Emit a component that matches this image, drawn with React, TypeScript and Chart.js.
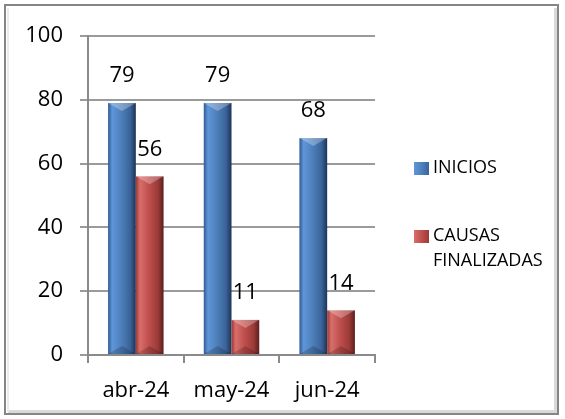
import React, { useEffect, useRef } from "react";
import { Chart, registerables } from "chart.js";

Chart.register(...registerables);

const categories = ["abr-24", "may-24", "jun-24"];
const inicios = [79, 79, 68];
const causasFinalizadas = [56, 11, 14];
const seriesNames = ["INICIOS", ["CAUSAS", "FINALIZADAS"]];
const yTicks = [0, 20, 40, 60, 80, 100];

const FONT = "'Open Sans', sans-serif";

const palettes = [
  ["#2f5a92", "#5f96d9", "#4f81bd", "#3a6399", "#1c3457"],
  ["#9a3835", "#d86f6b", "#c0504d", "#9b3a37", "#5c1e1c"],
];

const decorPlugin = {
  id: "decor",
  beforeDraw(chart: any) {
    const { ctx, width, height } = chart;
    ctx.save();
    ctx.fillStyle = "#ffffff";
    ctx.fillRect(0, 0, width, height);
    ctx.fillStyle = "#d9d9d9";
    ctx.fillRect(554, 8, 4, 406);
    ctx.fillRect(8, 410, 550, 4);
    ctx.fillStyle = "#ececec";
    ctx.fillRect(7, 8, 2, 404);
    ctx.strokeStyle = "#858585";
    ctx.lineWidth = 2;
    ctx.strokeRect(5, 5, 553, 409);
    ctx.restore();
  },
  afterDatasetsDraw(chart: any) {
    const { ctx } = chart;
    ctx.save();
    chart.data.datasets.forEach((ds: any, di: number) => {
      const meta = chart.getDatasetMeta(di);
      const pal = palettes[di];
      meta.data.forEach((bar: any, i: number) => {
        const w = bar.width;
        const l = bar.x - w / 2;
        const r = bar.x + w / 2;
        const top = bar.y;
        const base = bar.base;
        const g = ctx.createLinearGradient(l, 0, r, 0);
        g.addColorStop(0, pal[0]);
        g.addColorStop(0.15, pal[1]);
        g.addColorStop(0.45, pal[2]);
        g.addColorStop(0.8, pal[3]);
        g.addColorStop(1, pal[4]);
        ctx.fillStyle = g;
        ctx.fillRect(l, top, w, base - top);
        const cap = Math.min(8, (base - top) / 2);
        ctx.beginPath();
        ctx.moveTo(l, top);
        ctx.lineTo(r, top);
        ctx.lineTo(bar.x, top + cap);
        ctx.closePath();
        ctx.fillStyle = "rgba(255,255,255,0.28)";
        ctx.fill();
        ctx.beginPath();
        ctx.moveTo(l, base);
        ctx.lineTo(r, base);
        ctx.lineTo(bar.x, base - cap);
        ctx.closePath();
        ctx.fillStyle = "rgba(0,0,0,0.18)";
        ctx.fill();
        ctx.fillStyle = "#000000";
        ctx.font = `22px ${FONT}`;
        ctx.textAlign = "center";
        ctx.textBaseline = "middle";
        ctx.fillText(String(ds.data[i]), bar.x, top - 27);
      });
    });
    ctx.restore();
  },
  afterDraw(chart: any) {
    const { ctx } = chart;
    ctx.save();
    ctx.font = `18px ${FONT}`;
    ctx.textAlign = "left";
    ctx.textBaseline = "middle";
    const rows = [168, 236];
    seriesNames.forEach((name: any, di: number) => {
      const y = rows[di];
      const pal = palettes[di];
      const g = ctx.createLinearGradient(414, 0, 429, 0);
      g.addColorStop(0, pal[1]);
      g.addColorStop(0.5, pal[2]);
      g.addColorStop(1, pal[3]);
      ctx.fillStyle = g;
      ctx.fillRect(414, y - 6, 15, 13);
      ctx.fillStyle = "#000000";
      const lines = Array.isArray(name) ? name : [name];
      lines.forEach((t: string, li: number) => {
        ctx.fillText(t, 433, y + li * 25);
      });
    });
    ctx.restore();
  },
};

export default function App() {
  const ref = useRef<HTMLCanvasElement>(null);
  useEffect(() => {
    document.body.style.margin = "0";
    const chart = new Chart(ref.current!, {
      type: "bar",
      data: {
        labels: categories,
        datasets: [
          {
            label: "INICIOS",
            data: inicios,
            backgroundColor: "rgba(0,0,0,0)",
            categoryPercentage: 0.58,
            barPercentage: 1,
          },
          {
            label: "CAUSAS FINALIZADAS",
            data: causasFinalizadas,
            backgroundColor: "rgba(0,0,0,0)",
            categoryPercentage: 0.58,
            barPercentage: 1,
          },
        ],
      },
      options: {
        responsive: false,
        animation: false,
        layout: { padding: { left: 0, top: 36, right: 190, bottom: 0 } },
        plugins: { legend: { display: false }, tooltip: { enabled: false } },
        scales: {
          x: {
            afterFit: (s: any) => {
              s.height = 64;
            },
            grid: {
              drawOnChartArea: false,
              drawTicks: true,
              tickLength: 8,
              color: "#8a8a8a",
              lineWidth: 2,
              offset: true,
            },
            border: { color: "#8a8a8a", width: 2 },
            ticks: {
              color: "#000000",
              font: { family: FONT, size: 22 },
              padding: 15,
            },
          },
          y: {
            min: 0,
            max: 100,
            afterFit: (s: any) => {
              s.width = 88;
            },
            afterBuildTicks: (s: any) => {
              s.ticks = yTicks.map((v) => ({ value: v }));
            },
            grid: {
              color: "#9a9a9a",
              lineWidth: 2,
              tickLength: 8,
            },
            border: { color: "#8a8a8a", width: 2 },
            ticks: {
              color: "#000000",
              font: { family: FONT, size: 22 },
              padding: 17,
            },
          },
        },
      },
      plugins: [decorPlugin],
    });
    return () => chart.destroy();
  }, []);
  return (
    <canvas
      ref={ref}
      width={565}
      height={419}
      style={{ position: "fixed", left: 0, top: 0, width: 565, height: 419 }}
    />
  );
}
